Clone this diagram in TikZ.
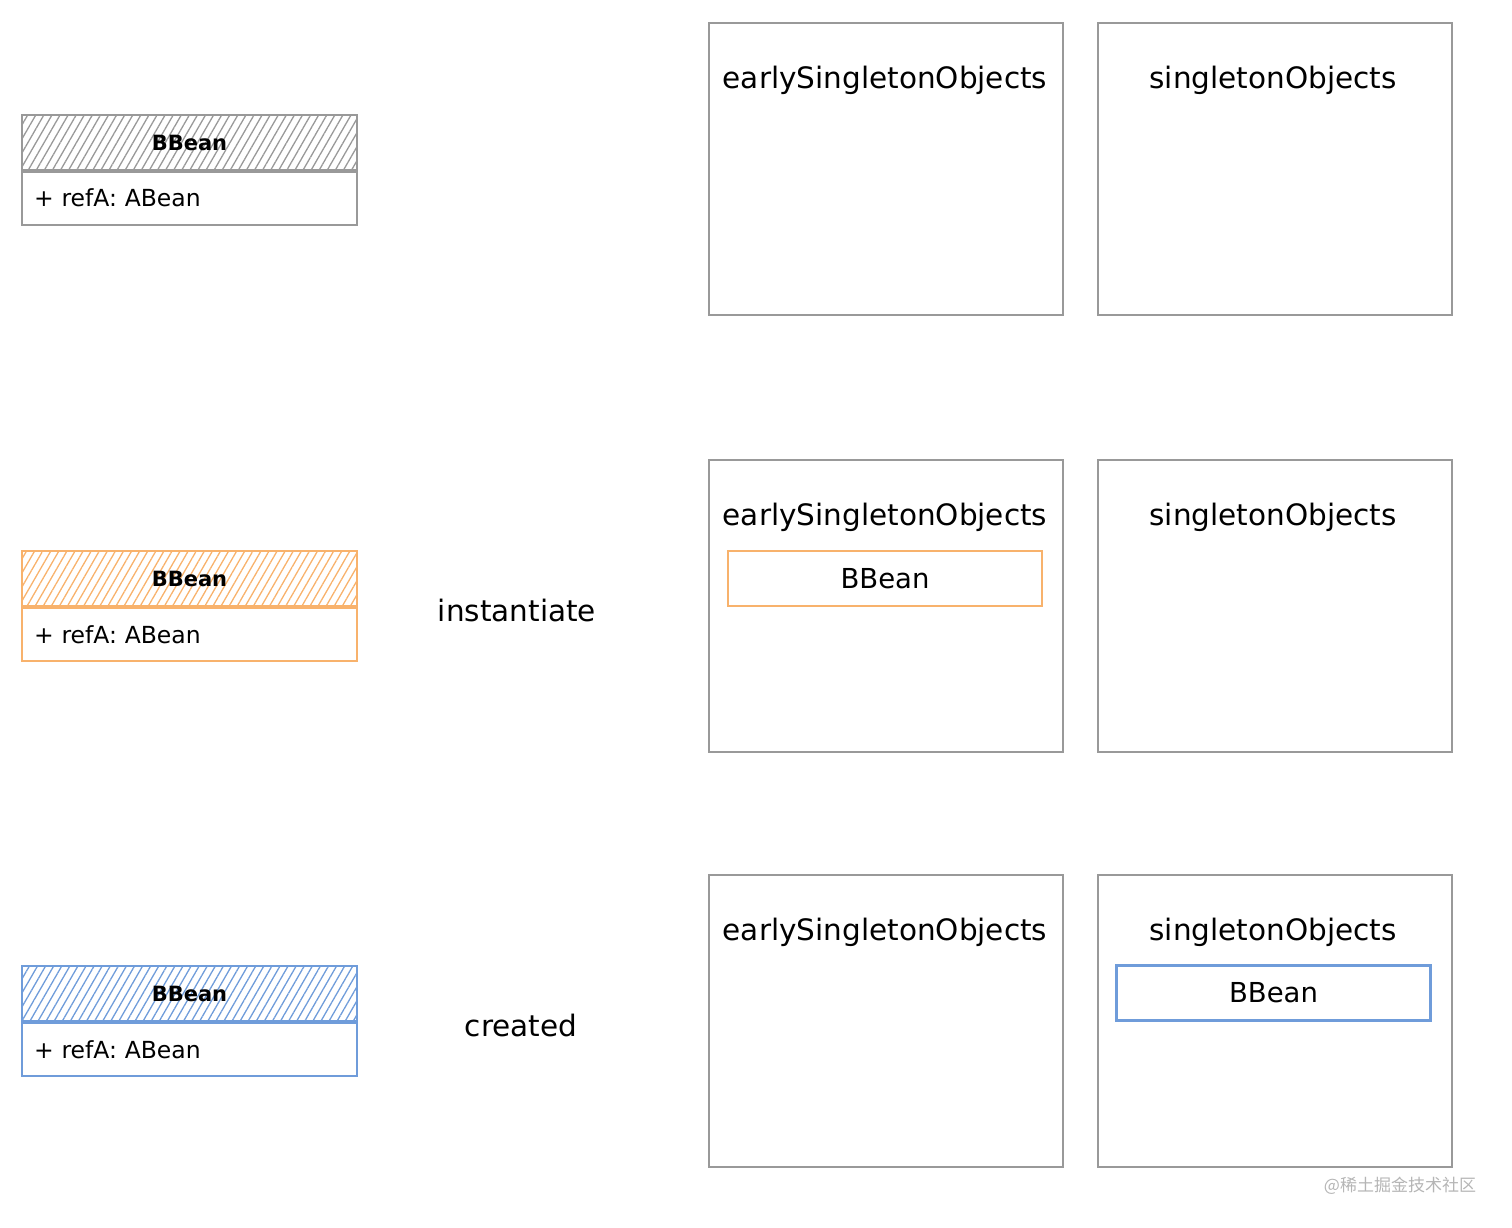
\documentclass[tikz,border=0pt]{standalone}
\usepackage{fontspec}
\setmainfont{DejaVu Sans}
\newfontfamily\cjk{Noto Sans CJK SC}
\usetikzlibrary{patterns.meta}
\definecolor{sketchgray}{HTML}{999999}
\definecolor{sketchorange}{HTML}{F8B26C}
\definecolor{sketchblue}{HTML}{6F9CDA}
\definecolor{markgray}{HTML}{B5B5B5}

\begin{document}
\begin{tikzpicture}[x=1pt,y=-1pt,
    classhead/.style={minimum width=335pt,minimum height=55pt,line width=2pt,
        pattern={Lines[angle=60,distance=7pt,line width=1.3pt]},
        font=\fontsize{21}{24}\selectfont\bfseries},
    classbody/.style={minimum width=335pt,minimum height=53pt,line width=2pt,
        anchor=north,font=\fontsize{23.5}{26}\selectfont,
        text width=311pt,align=left},
    store/.style={draw=sketchgray,line width=2pt,minimum width=354pt,minimum height=292pt},
    storename/.style={font=\fontsize{29.5}{33}\selectfont},
    bean/.style={line width=2.5pt,minimum width=314pt,minimum height=55pt,
        font=\fontsize{27.5}{31}\selectfont},
    step label/.style={font=\fontsize{29.5}{33}\selectfont}]
    \useasboundingbox (0,0) rectangle (1512,1227);
    % class boxes
    \foreach \y/\c/\n in {115/sketchgray/bbA,551/sketchorange/bbB,966/sketchblue/bbC} {
        \node[classhead,draw=\c,pattern color=\c] (\n-head) at (189.5,\y+27.5) {BBean};
        \node[classbody,draw=\c] (\n-body) at (\n-head.south) {+ refA: ABean};
    }
    % the two caches, three times
    \foreach \y/\r in {23/A,460/B,875/C} {
        \node[store] (early\r) at (886,\y+146) {};
        \node[store] (single\r) at (1274.5,\y+146) {};
        \node[storename] (earlyname\r) at (885,\y+57) {earlySingletonObjects};
        \node[storename] (singlename\r) at (1273,\y+57) {singletonObjects};
    }
    \node[bean,draw=sketchorange] (earlybean) at (885,578.5) {BBean};
    \node[bean,draw=sketchblue] (singlebean) at (1273.5,993) {BBean};
    \node[step label] (instantiate) at (517,610) {instantiate};
    \node[step label] (created) at (521,1025) {created};
    \node[text=markgray,font=\fontsize{17}{20}\selectfont\cjk] (mark) at (1400,1186) {@稀土掘金技术社区};
\end{tikzpicture}
\end{document}
